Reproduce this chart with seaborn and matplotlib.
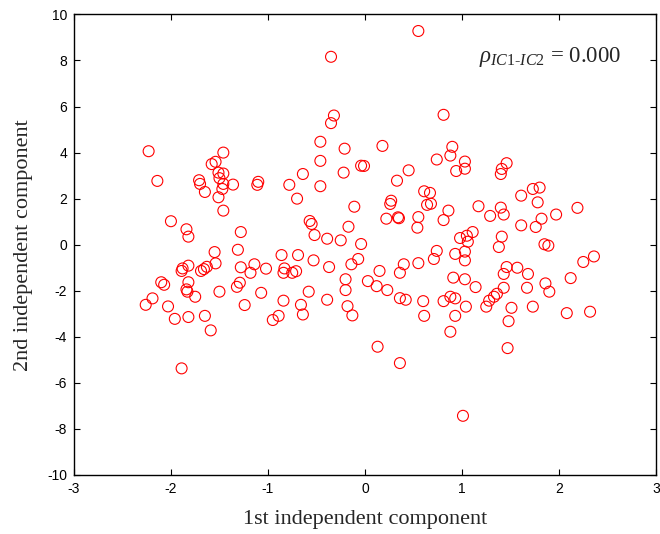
import numpy as np
import pandas as pd
import matplotlib
matplotlib.use("Agg")
import matplotlib.pyplot as plt
import seaborn as sns

ic1 = [
    -2.23, -2.14, -1.46, -1.54, -1.58, -1.51, -1.46, -1.71, -1.70, -1.50,
    -1.46, -1.36, -1.65, -1.47, -1.51, -1.10, -1.11, -0.78, -0.70, -1.46,
    -2.00, -1.84, -1.82, -1.28, -1.31, -1.55, -0.86, -0.69,
    -1.82, -1.88, -1.89, -1.69, -1.66, -1.63, -1.54, -1.28, -1.14, -1.18,
    -1.02, -0.83, -0.84, -0.75, -0.71, -2.10, -2.07, -1.82, -1.84, -1.83,
    -1.75, -1.50, -2.19, -2.26, -2.03, -1.96, -1.82, -1.65, -1.59, -1.89,
    -1.32, -1.29, -1.24, -1.07, -0.84, -0.95, -0.89,
    -0.53, -0.37, -0.14, -0.07, -0.20, -0.20, -0.18, -0.13, -0.58, -0.39,
    -0.66, -0.64, 0.03, 0.12, 0.23, 0.15, 0.36, 0.40, 0.55, 0.71,
    0.74, 0.93, 1.03, 1.03, 0.91, 1.03, 1.14, 0.36, 0.42, 0.60,
    0.61, 0.81, 0.88, 0.93, 1.04, 0.93, 0.88, 0.13, 0.36,
    2.25, 2.36, 1.46, 1.57, 1.43, 1.68, 2.12, 1.43, 1.67, 1.86,
    1.90, 1.36, 1.33, 1.28, 1.25, 1.51, 1.73, 1.48, 2.08, 2.32, 1.47,
    -0.32, -0.35, 0.81, -0.46, -0.21, 0.18, 0.90, 0.88, 0.74, 1.03,
    1.03, 0.94, -0.46, -0.04, -0.01, 0.45, -0.64, -0.22, 0.33, -0.46,
    0.61, 0.67, 0.27, 0.26, 0.64, 0.68, 0.86, 1.17, -0.11, 0.22,
    0.34, 0.35, 0.55, 0.54, 0.81, -0.57, -0.55, -0.17, -0.52, -0.39,
    -0.25, -0.04, 1.11, 1.05, 0.98, 1.06,
    1.46, 1.41, 1.40, 1.61, 1.73, 1.80, 1.78, 1.29, 1.40, 1.43,
    1.97, 2.19, 1.82, 1.76, 1.61, 1.41, 1.38, 1.85, 1.89,
    0.55, -0.35, 1.01,
]
ic2 = [
    4.06, 2.77, 4.00, 3.60, 3.50, 3.13, 3.09, 2.80, 2.64, 2.89,
    2.64, 2.61, 2.29, 2.42, 2.06, 2.73, 2.60, 2.60, 2.00, 1.48,
    1.02, 0.67, 0.35, 0.55, -0.22, -0.32, -0.45, -0.45,
    -0.91, -1.03, -1.14, -1.14, -1.06, -0.96, -0.81, -0.98, -0.85, -1.22,
    -1.04, -1.03, -1.22, -1.22, -1.15, -1.63, -1.74, -1.63, -1.94, -2.04,
    -2.26, -2.04, -2.33, -2.61, -2.68, -3.22, -3.14, -3.09, -3.72, -5.37,
    -1.83, -1.65, -2.62, -2.09, -2.43, -3.27, -3.09,
    -0.68, -0.97, -0.85, -0.62, -1.50, -1.97, -2.67, -3.07, -2.04, -2.39,
    -2.61, -3.03, -1.58, -1.80, -1.97, -1.14, -1.22, -0.85, -0.80, -0.62,
    -0.27, -0.40, -0.30, -0.68, -1.43, -1.50, -1.84, -2.32, -2.39, -2.45,
    -3.09, -2.45, -2.26, -2.33, -2.69, -3.09, -3.78, -4.43, -5.14,
    -0.75, -0.51, -0.97, -1.00, -1.27, -1.27, -1.45, -1.87, -1.87, -1.68,
    -2.04, -2.13, -2.26, -2.43, -2.69, -2.74, -2.69, -3.32, -2.97, -2.91, -4.49,
    5.61, 5.28, 5.64, 4.47, 4.17, 4.29, 4.25, 3.87, 3.70, 3.61,
    3.30, 3.20, 3.64, 3.43, 3.42, 3.23, 3.07, 3.13, 2.78, 2.54,
    2.32, 2.25, 1.91, 1.77, 1.73, 1.78, 1.48, 1.67, 1.65, 1.13,
    1.19, 1.15, 1.20, 0.74, 1.07, 1.03, 0.90, 0.78, 0.42, 0.26,
    0.19, 0.03, 0.55, 0.39, 0.29, 0.13,
    3.54, 3.29, 3.07, 2.13, 2.42, 2.48, 1.84, 1.25, 1.61, 1.31,
    1.31, 1.60, 1.13, 0.77, 0.84, 0.35, -0.10, 0.02, -0.04,
    9.28, 8.16, -7.43,
]

x_ticks = [-3, -2, -1, 0, 1, 2, 3]
y_ticks = [-10, -8, -6, -4, -2, 0, 2, 4, 6, 8, 10]
x_label = "1st independent component"
y_label = "2nd independent component"
annot = r"$\rho_{\mathit{IC1\text{-}IC2}}$" + " = 0.000"

df = pd.DataFrame({"ic1": ic1, "ic2": ic2})

sns.set_theme(style="ticks")
plt.rcParams["font.family"] = ["Liberation Sans", "DejaVu Sans"]
plt.rcParams["mathtext.fontset"] = "custom"
plt.rcParams["mathtext.rm"] = "Liberation Serif"
plt.rcParams["mathtext.it"] = "Liberation Serif:italic"
plt.rcParams["mathtext.bf"] = "Liberation Serif:bold"
plt.rcParams["xtick.direction"] = "in"
plt.rcParams["ytick.direction"] = "in"

fig = plt.figure(figsize=(6.6, 5.34), dpi=100)
ax = fig.add_axes([0.112, 0.1105, 0.882, 0.8625])

sns.scatterplot(data=df, x="ic1", y="ic2", ax=ax, marker="o", s=62,
                linewidth=0.8, legend=False)
coll = ax.collections[0]
coll.set_facecolor("none")
coll.set_edgecolor("#ff0000")

ax.set_xlim(-3, 3)
ax.set_ylim(-10, 10)
ax.set_xticks(x_ticks)
ax.set_yticks(y_ticks)
ax.set_xticklabels([str(t) for t in x_ticks])
ax.set_yticklabels([str(t) for t in y_ticks])
ax.tick_params(axis="both", which="both", direction="in", length=4,
               width=0.8, top=True, right=True, labelsize=10, colors="black",
               pad=5)
for sp in ax.spines.values():
    sp.set_visible(True)
    sp.set_color("black")
    sp.set_linewidth(1.0)

ax.set_xlabel(x_label, family=["Liberation Serif", "DejaVu Serif"], fontsize=16,
              labelpad=10)
ax.set_ylabel(y_label, family=["Liberation Serif", "DejaVu Serif"], fontsize=16,
              labelpad=10)
ax.text(1.18, 8.15, annot, family=["Liberation Serif", "DejaVu Serif"],
        fontsize=16.5, va="center", ha="left")

fig.savefig("out.png", dpi=100)
